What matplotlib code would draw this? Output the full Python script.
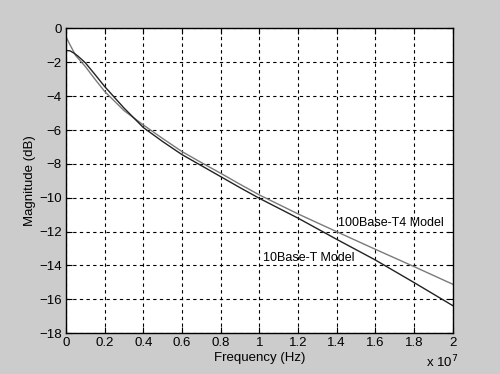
import numpy as np
import matplotlib.pyplot as plt
from matplotlib.ticker import FuncFormatter

plt.rcParams['font.family'] = ['Liberation Sans', 'DejaVu Sans']

# frequency points [Hz]
freq_t4 = np.array([0.0, 0.02, 0.05, 0.10, 0.15, 0.20, 0.30, 0.40, 0.50, 0.60,
                    0.70, 0.80, 0.90, 1.00, 1.20, 1.40, 1.60, 1.80, 2.00]) * 1e7
mag_t4 = np.array([-0.5, -0.95, -1.6, -2.25, -3.0, -3.72, -4.85, -5.7, -6.5, -7.27,
                   -7.92, -8.55, -9.2, -9.83, -10.95, -12.0, -13.04, -14.06, -15.1])

freq_t = np.array([0.0, 0.02, 0.04, 0.06, 0.08, 0.10, 0.15, 0.20, 0.30, 0.40, 0.50, 0.60,
                   0.70, 0.80, 0.90, 1.00, 1.20, 1.40, 1.60, 1.80, 2.00]) * 1e7
mag_t = np.array([-1.3, -1.32, -1.45, -1.62, -1.82, -2.03, -2.72, -3.43, -4.7, -5.85, -6.68, -7.45,
                  -8.1, -8.75, -9.4, -10.03, -11.2, -12.45, -13.67, -15.0, -16.36])

fig = plt.figure(figsize=(5.0, 3.74), dpi=100, facecolor='#cccccc')
ax = fig.add_axes([0.132, 0.109, 0.773, 0.815])

ax.plot(freq_t4, mag_t4, color='#7a7a7a', lw=1.0)
ax.plot(freq_t, mag_t, color='#222222', lw=1.0)

ax.text(1.408e7, -11.5, '100Base-T4 Model', fontsize=9, va='center', ha='left')
ax.text(1.02e7, -13.55, '10Base-T Model', fontsize=9, va='center', ha='left')

ax.set_xlim(0, 2e7)
ax.set_ylim(-18, 0)
ax.set_xticks(np.arange(0, 2.01e7, 0.2e7))
ax.set_yticks(np.arange(-18, 0.1, 2))
ax.xaxis.set_major_formatter(FuncFormatter(lambda v, p: f"{v/1e7:g}"))
ax.tick_params(direction='in', labelsize=9.5, length=4, top=True, right=True, pad=3)
ax.grid(True, color='black', linestyle=(0, (3, 3)), linewidth=0.8)

for s in ax.spines.values():
    s.set_linewidth(1.0)
    s.set_color('black')

ax.set_xlabel('Frequency (Hz)', fontsize=9.5, labelpad=2)
ax.set_ylabel('Magnitude (dB)', fontsize=9.5, labelpad=2)
fig.text(0.852, 0.018, r'x 10$^7$', fontsize=9.5)

fig.savefig('out.png', dpi=100, facecolor=fig.get_facecolor())
